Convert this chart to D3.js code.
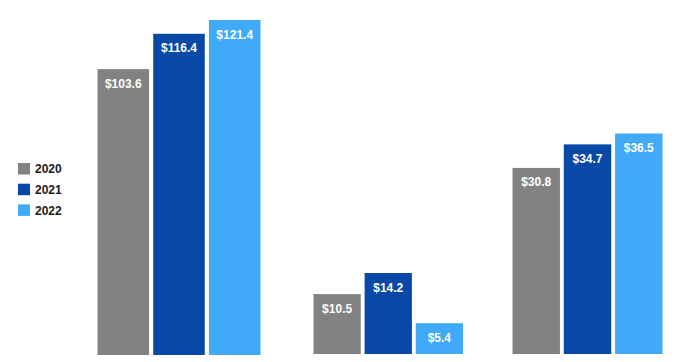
<!DOCTYPE html>
<html>
<head>
<meta charset="utf-8">
<script src="https://cdn.jsdelivr.net/npm/d3@7"></script>
<style>
  html, body { margin: 0; padding: 0; background: #ffffff; }
  svg { display: block; }
  text { font-family: "Liberation Sans", Arial, sans-serif; }
</style>
</head>
<body>
<svg id="chart" width="681" height="362"></svg>
<script>
// ---- data ----
const series = ["2020", "2021", "2022"];
const groups = ["A", "B", "C"];
const valuesA = [103.6, 116.4, 121.4];
const valuesB = [10.5, 14.2, 5.4];
const valuesC = [30.8, 34.7, 36.5];
const colors = ["#828282", "#0849a8", "#41aaf8"];

// ---- layout (each group drawn on its own scale, as in the reference) ----
const panels = [
  { values: valuesA, x0: 97.5, x1: 260.5, bottom: 355, domainMax: 121.4, topPx: 20 },
  { values: valuesB, x0: 313.5, x1: 463, bottom: 354, domainMax: 14.2, topPx: 273 },
  { values: valuesC, x0: 512.5, x1: 662.5, bottom: 354, domainMax: 36.5, topPx: 133.5 }
];

const svg = d3.select("#chart");

panels.forEach((p, gi) => {
  const x = d3.scaleBand().domain(series).range([p.x0, p.x1]).paddingInner(0.075).paddingOuter(0);
  const y = d3.scaleLinear().domain([0, p.domainMax]).range([p.bottom, p.topPx]);
  const g = svg.append("g").attr("class", "group-" + groups[gi]);
  const data = series.map((s, i) => ({ s, v: p.values[i], c: colors[i] }));

  g.selectAll("rect").data(data).enter().append("rect")
    .attr("x", d => x(d.s))
    .attr("y", d => y(d.v))
    .attr("width", x.bandwidth())
    .attr("height", d => y(0) - y(d.v))
    .attr("fill", d => d.c);

  g.selectAll("text").data(data).enter().append("text")
    .attr("x", d => x(d.s) + x.bandwidth() / 2)
    .attr("y", d => y(d.v) + 18.5)
    .attr("text-anchor", "middle")
    .attr("fill", "#ffffff")
    .attr("font-size", 12)
    .attr("font-weight", "bold")
    .text(d => "$" + d3.format(".1f")(d.v));
});

// ---- legend ----
const legend = svg.append("g").attr("transform", "translate(18,163)");
series.forEach((s, i) => {
  const row = legend.append("g").attr("transform", `translate(0,${i * 20.7})`);
  row.append("rect").attr("width", 12).attr("height", 11.5).attr("fill", colors[i]);
  row.append("text").attr("x", 17).attr("y", 10.2)
    .attr("font-size", 12).attr("font-weight", "bold").attr("fill", "#1a1a1a")
    .text(s);
});
</script>
</body>
</html>
